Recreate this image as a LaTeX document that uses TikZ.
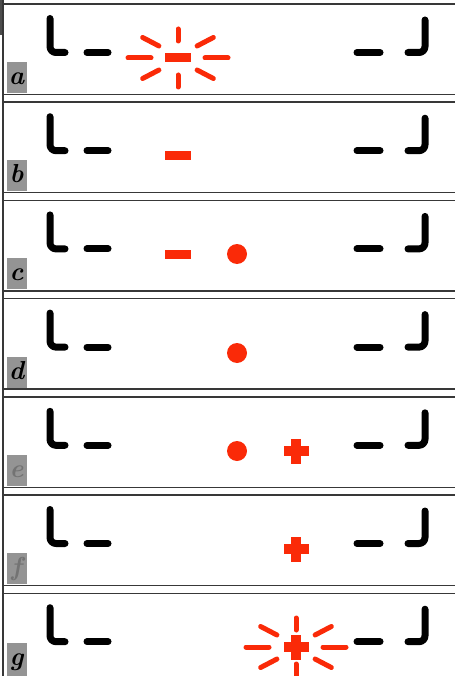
\documentclass[tikz,border=0pt]{standalone}
\definecolor{ledred}{RGB}{250,42,8}
\begin{document}
\begin{tikzpicture}[x=1pt,y=-1pt,
  seg/.style={line width=7pt,line cap=round,line join=round,rounded corners=6pt},
  rule/.style={draw=black!78,line width=1.4pt},
  tagbox/.style={fill=black!42},
  tagtext/.style={font=\fontsize{26}{26}\selectfont\bfseries\itshape,inner sep=0pt,anchor=base},
  minus/.style={fill=ledred,minimum width=26pt,minimum height=9pt,inner sep=0pt},
  dot/.style={circle,fill=ledred,minimum size=20pt,inner sep=0pt},
  ray/.style={draw=ledred,line width=5pt,line cap=round},
  pics/plus/.style={code={
    \fill[ledred] (-12.5,-5) rectangle (12.5,5);
    \fill[ledred] (-5,-12.5) rectangle (5,12.5);}},
  pics/burst/.style={code={
    \foreach \a in {0,45,...,315}
      \draw[ray] ({27*cos(\a)},{17*sin(\a)}) -- ({50*cos(\a)},{29*sin(\a)});}}]
\useasboundingbox (0,0) rectangle (455,676);
\fill[black!70] (0,0) rectangle (2.5,35);
\draw[rule] (3,0) -- (3,676);
\foreach \lab/\ink/\dy [count=\i from 0] in {a/black/0,b/black/0,c/black/0,d/black/0,e/black!55/0,f/black!55/0,g/black/-8}
{
  \begin{scope}[shift={(0,4+98.2*\i)}]
    \draw[rule] (3,0) -- (455,0);
    \draw[rule] (3,90.5) -- (455,90.5);
    \draw[seg] (50,14.5) -- (50,48.5) -- (65,48.5);
    \draw[seg] (87,48.5) -- (108,48.5);
    \draw[seg] (357,48.5) -- (380,48.5);
    \draw[seg] (408,48.5) -- (425,48.5) -- (425,16);
    \fill[tagbox] (7,58+\dy) rectangle (26.5,89);
    \node[tagtext,text=\ink] (tag-\lab) at (16.5,80.5+\dy) {\lab};
  \end{scope}
}
\node[minus] (minus-a) at (178,58) {};
\pic at (minus-a) {burst};
\node[minus] (minus-b) at (178,156) {};
\node[minus] (minus-c) at (178,254) {};
\node[dot] (dot-c) at (237,254) {};
\node[dot] (dot-d) at (237,353) {};
\node[dot] (dot-e) at (237,451) {};
\coordinate (plus-e) at (296,451);
\coordinate (plus-f) at (296,549);
\coordinate (plus-g) at (296,647);
\pic at (plus-e) {plus};
\pic at (plus-f) {plus};
\pic at (plus-g) {plus};
\pic at (plus-g) {burst};
\end{tikzpicture}
\end{document}
